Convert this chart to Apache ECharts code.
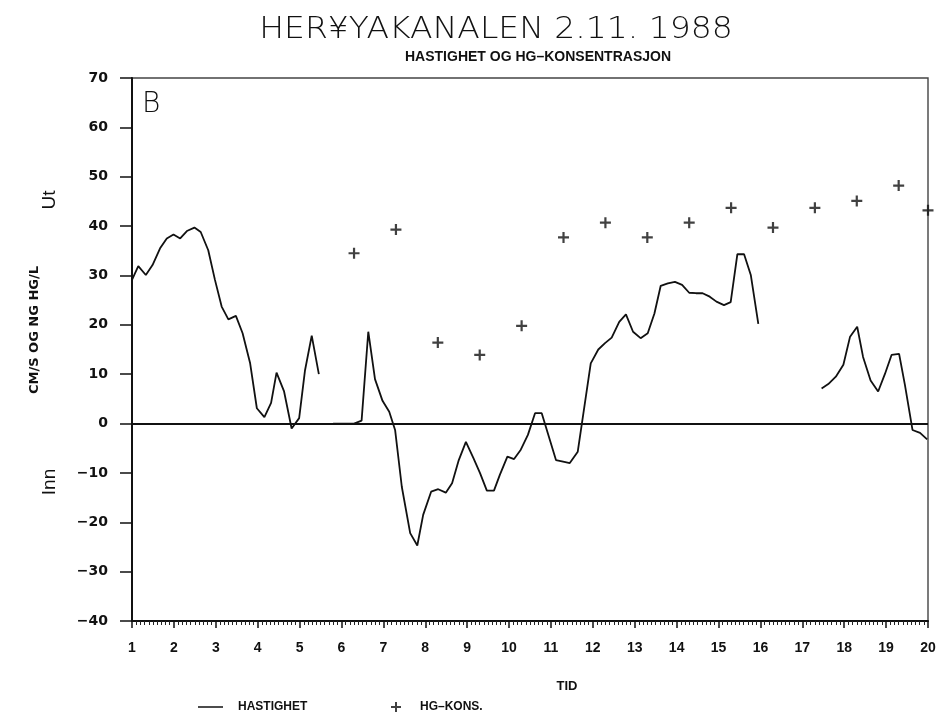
<!DOCTYPE html>
<html>
<head>
<meta charset="utf-8">
<script src="https://cdn.jsdelivr.net/npm/echarts@6/dist/echarts.min.js"></script>
<style>
  html, body { margin: 0; padding: 0; background: #fff; }
  #chart { width: 941px; height: 713px; }
</style>
</head>
<body>
<div id="chart"></div>
<script>
// hastighet (cm/s), tre sammenhengende biter med hull imellom
var tid1 = [1.0, 1.15, 1.33, 1.49, 1.67, 1.83, 1.99, 2.15, 2.31, 2.49, 2.64, 2.82, 2.98, 3.14,
            3.30, 3.48, 3.64, 3.82, 3.98, 4.16, 4.32, 4.45, 4.63, 4.81, 4.99, 5.13, 5.29, 5.46];
var hast1 = [29.1, 31.9, 30.1, 32.1, 35.5, 37.5, 38.3, 37.5, 39.0, 39.7, 38.8, 35.1, 29.1, 23.7,
             21.1, 21.8, 18.3, 12.2, 3.1, 1.3, 4.2, 10.3, 6.5, -1.0, 1.1, 10.8, 17.8, 10.0];

var tid2 = [5.80, 6.30, 6.48, 6.64, 6.80, 6.98, 7.14, 7.28, 7.44, 7.64, 7.81, 7.95, 8.14, 8.31,
            8.49, 8.64, 8.80, 8.97, 9.15, 9.31, 9.47, 9.64, 9.78, 9.96, 10.12, 10.28, 10.45,
            10.62, 10.78, 11.12, 11.29, 11.45, 11.64, 11.95, 12.13, 12.29, 12.45, 12.63, 12.79,
            12.96, 13.14, 13.31, 13.47, 13.62, 13.79, 13.96, 14.13, 14.30, 14.46, 14.62, 14.79,
            14.95, 15.13, 15.29, 15.45, 15.61, 15.77, 15.95];
var hast2 = [0, 0, 0.6, 18.6, 9.0, 4.6, 2.4, -1.3, -12.8, -22.2, -24.7, -18.5, -13.8, -13.3,
             -14.0, -12.1, -7.4, -3.7, -7.0, -10.1, -13.6, -13.6, -10.4, -6.7, -7.2, -5.3, -2.3,
             2.1, 2.1, -7.4, -7.7, -8.0, -5.7, 12.2, 15.0, 16.3, 17.4, 20.6, 22.1,
             18.6, 17.3, 18.3, 22.3, 27.9, 28.4, 28.7, 28.1, 26.5, 26.4, 26.4, 25.7,
             24.7, 24.0, 24.6, 34.3, 34.3, 30.1, 20.2];

var tid3 = [17.46, 17.62, 17.80, 17.98, 18.14, 18.31, 18.45, 18.63, 18.81, 18.97, 19.13, 19.31,
            19.45, 19.63, 19.81, 19.98];
var hast3 = [7.1, 8.0, 9.5, 11.9, 17.6, 19.6, 13.5, 8.7, 6.5, 10.0, 13.9, 14.1,
             7.8, -1.3, -1.9, -3.2];

// HG-konsentrasjon (ng Hg/l)
var tidHg = [6.3, 7.3, 8.3, 9.3, 10.3, 11.3, 12.3, 13.3, 14.3, 15.3, 16.3, 17.3, 18.3, 19.3, 20.0];
var hgKons = [34.5, 39.3, 16.4, 13.9, 19.8, 37.7, 40.7, 37.7, 40.7, 43.7, 39.7, 43.7, 45.1, 48.2, 43.2];

var xMin = 1, xMax = 20, yMin = -40, yMax = 70;

function par(t, v) {
    return t.map(function (x, i) { return [x, v[i]]; });
}

var kryss = 'path://M4,0H6V4H10V6H6V10H4V6H0V4H4Z';
var fet = "'Liberation Sans', sans-serif";
var bred = "'DejaVu Sans', sans-serif";

function linje(data, medNull) {
    var s = {
        name: 'HASTIGHET',
        type: 'line',
        data: data,
        symbol: 'none',
        lineStyle: { color: '#111', width: 1.8 },
        itemStyle: { color: '#111' },
        animation: false
    };
    if (medNull) {
        s.markLine = {
            silent: true,
            symbol: 'none',
            label: { show: false },
            lineStyle: { color: '#111', width: 2, type: 'solid' },
            data: [{ yAxis: 0 }]
        };
    }
    return s;
}

var myChart = echarts.init(document.getElementById('chart'));
var option = {
    backgroundColor: '#fff',
    animation: false,
    grid: {
        left: 132, right: 13, top: 78, bottom: 92,
        show: true, borderColor: '#444', borderWidth: 1.4
    },
    xAxis: {
        type: 'value',
        min: xMin, max: xMax, interval: 1,
        axisLine: { onZero: false, lineStyle: { color: '#111', width: 2 } },
        axisTick: { length: 7, lineStyle: { color: '#111', width: 1.5 } },
        minorTick: { show: true, splitNumber: 10, length: 4, lineStyle: { color: '#222', width: 1 } },
        splitLine: { show: false },
        axisLabel: {
            color: '#111', fontFamily: fet,
            fontWeight: 'bold', fontSize: 14, margin: 20
        }
    },
    yAxis: {
        type: 'value',
        min: yMin, max: yMax, interval: 10,
        axisLine: { onZero: false, lineStyle: { color: '#111', width: 2 } },
        axisTick: { length: 12, lineStyle: { color: '#111', width: 1.5 } },
        splitLine: { show: false },
        axisLabel: {
            color: '#111', fontFamily: bred, fontWeight: 'bold', fontSize: 14, margin: 24,
            formatter: function (v) { return String(v).replace('-', '\u2212'); }
        }
    },
    legend: [
        {
            data: [{ name: 'HASTIGHET', icon: 'rect' }],
            left: 193, top: 696,
            itemWidth: 25, itemHeight: 1.5,
            textStyle: { color: '#111', fontFamily: fet, fontWeight: 'bold', fontSize: 12, padding: [0, 0, 0, 10] },
            selectedMode: false
        },
        {
            data: [{ name: 'HG\u2013KONS.', icon: kryss }],
            left: 386, top: 696,
            itemWidth: 10, itemHeight: 10,
            textStyle: { color: '#111', fontFamily: fet, fontWeight: 'bold', fontSize: 12, padding: [0, 0, 0, 14] },
            selectedMode: false
        }
    ],
    graphic: [
        {
            type: 'text', x: 496, y: 30, scaleX: 1.1,
            style: {
                text: 'HER\u00a5YAKANALEN 2.11. 1988', fill: '#111',
                font: '300 30px ' + bred, align: 'center', verticalAlign: 'middle'
            }
        },
        {
            type: 'text', x: 538, y: 57,
            style: {
                text: 'HASTIGHET OG HG\u2013KONSENTRASJON', fill: '#111',
                font: 'bold 14px ' + fet, align: 'center', verticalAlign: 'middle'
            }
        },
        {
            type: 'text', x: 35, y: 330, rotation: Math.PI / 2,
            style: {
                text: 'CM/S OG NG HG/L', fill: '#111',
                font: 'bold 13px ' + bred, align: 'center', verticalAlign: 'middle'
            }
        },
        {
            type: 'text', x: 50, y: 200, rotation: Math.PI / 2,
            style: {
                text: 'Ut', fill: '#111',
                font: '19px ' + fet, align: 'center', verticalAlign: 'middle'
            }
        },
        {
            type: 'text', x: 50, y: 482, rotation: Math.PI / 2,
            style: {
                text: 'Inn', fill: '#111',
                font: '19px ' + fet, align: 'center', verticalAlign: 'middle'
            }
        },
        {
            type: 'text', x: 142, y: 105,
            style: {
                text: 'B', fill: '#111',
                font: '300 28px ' + bred, align: 'left', verticalAlign: 'middle'
            }
        },
        {
            type: 'text', x: 567, y: 686,
            style: {
                text: 'TID', fill: '#111',
                font: 'bold 13px ' + fet, align: 'center', verticalAlign: 'middle'
            }
        }
    ],
    series: [
        linje(par(tid1, hast1), true),
        linje(par(tid2, hast2), false),
        linje(par(tid3, hast3), false),
        {
            name: 'HG\u2013KONS.',
            type: 'scatter',
            data: par(tidHg, hgKons),
            symbol: kryss,
            symbolSize: 11,
            clip: false,
            itemStyle: { color: '#111' },
            animation: false
        }
    ]
};
myChart.setOption(option);
</script>
</body>
</html>
